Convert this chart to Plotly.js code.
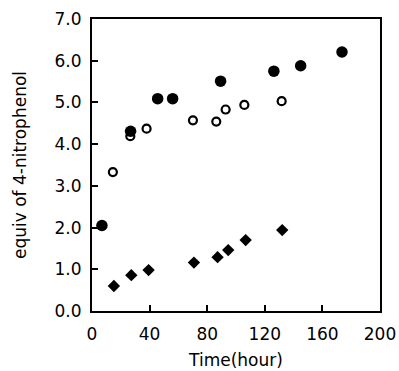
<!DOCTYPE html>
<html><head><meta charset="utf-8">
<script src="https://cdn.plot.ly/plotly-3.0.1.min.js"></script>
<style>html,body{margin:0;padding:0;background:#fff}#chart{width:399px;height:371px}</style>
</head><body><div id="chart"></div>
<script>
const filledX = [6.9, 26.8, 45.6, 56.0, 89.3, 126.3, 144.9, 173.6];
const filledY = [2.05, 4.31, 5.09, 5.09, 5.51, 5.75, 5.88, 6.21];
const openX = [14.5, 26.6, 37.9, 70.1, 86.3, 92.8, 105.8, 131.7];
const openY = [3.33, 4.19, 4.37, 4.57, 4.54, 4.83, 4.94, 5.03];
const diamondX = [15.2, 27.3, 39.3, 70.8, 87.2, 94.6, 106.7, 132.1];
const diamondY = [0.60, 0.86, 0.98, 1.16, 1.29, 1.46, 1.70, 1.94];
const xTicks = [0, 40, 80, 120, 160, 200];
const yTicks = [0, 1, 2, 3, 4, 5, 6, 7];

const font = {family: 'DejaVu Sans, sans-serif', color: '#000'};
const traces = [
  {x: openX, y: openY, mode: 'markers', type: 'scatter',
   marker: {symbol: 'circle-open', size: 8, color: '#000', line: {width: 2.2, color: '#000'}}},
  {x: filledX, y: filledY, mode: 'markers', type: 'scatter',
   marker: {symbol: 'circle', size: 11.5, color: '#000'}},
  {x: diamondX, y: diamondY, mode: 'markers', type: 'scatter',
   marker: {symbol: 'diamond', size: 9.5, color: '#000'}}
];
const layout = {
  width: 399, height: 371,
  margin: {l: 92, r: 19, t: 19, b: 60},
  showlegend: false,
  paper_bgcolor: '#fff', plot_bgcolor: '#fff',
  font: Object.assign({size: 17}, font),
  xaxis: {
    range: [0, 200], tickvals: xTicks, ticktext: xTicks.map(String),
    ticks: 'inside', ticklen: 6, tickwidth: 2, tickcolor: '#000',
    showline: true, linewidth: 2, linecolor: '#000', mirror: true,
    showgrid: false, zeroline: false, ticklabelstandoff: 7,
    tickfont: Object.assign({size: 17}, font),
    title: {text: 'Time(hour)', font: Object.assign({size: 17}, font), standoff: 11}
  },
  yaxis: {
    range: [0, 7], tickvals: yTicks, ticktext: yTicks.map(v => v.toFixed(1)),
    ticks: 'inside', ticklen: 6, tickwidth: 2, tickcolor: '#000',
    showline: true, linewidth: 2, linecolor: '#000', mirror: true,
    showgrid: false, zeroline: false, ticklabelstandoff: 5,
    tickfont: Object.assign({size: 17}, font),
    title: {text: 'equiv of 4-nitrophenol', font: Object.assign({size: 17}, font), standoff: 24}
  }
};
Plotly.newPlot('chart', traces, layout, {displayModeBar: false, staticPlot: true});
</script></body></html>
